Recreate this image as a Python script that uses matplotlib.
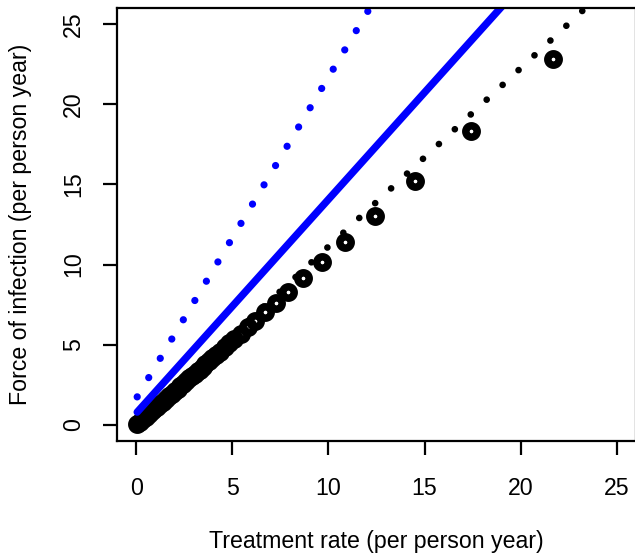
import matplotlib
matplotlib.use('Agg')
import matplotlib.pyplot as plt

# open circles (treatment rate vs force of infection)
circle_x = [21.7, 17.4, 14.5, 12.4, 10.85, 9.65, 8.7, 7.9, 7.25, 6.7, 6.2, 5.8,
            5.45, 5.1, 4.85, 4.6, 4.35, 4.15, 3.95, 3.8, 3.6, 3.45, 3.3, 3.2,
            3.05, 2.9, 2.75, 2.6, 2.45, 2.3, 2.15, 2.0, 1.85, 1.7, 1.55, 1.4,
            1.25, 1.1, 0.95, 0.8, 0.65, 0.5, 0.35, 0.2, 0.05]
circle_y = [22.8, 18.3, 15.2, 13.0, 11.4, 10.15, 9.15, 8.3, 7.6, 7.05, 6.5, 6.1,
            5.7, 5.35, 5.1, 4.85, 4.55, 4.35, 4.15, 4.0, 3.8, 3.6, 3.45, 3.35,
            3.2, 3.05, 2.9, 2.75, 2.55, 2.4, 2.25, 2.1, 1.95, 1.8, 1.6, 1.45,
            1.3, 1.15, 1.0, 0.85, 0.7, 0.5, 0.35, 0.2, 0.05]

# reference lines
black_dot_x = [0.0, 24.0]
black_dot_y = [0.0, 26.7]
blue_solid_x = [0.05, 20.0]
blue_solid_y = [0.8, 27.4]
blue_dot_x = [0.05, 13.0]
blue_dot_y = [1.75, 27.7]

ticks = [0, 5, 10, 15, 20, 25]

plt.rcParams['font.family'] = ['Liberation Sans', 'DejaVu Sans']
plt.rcParams['font.size'] = 16.7

fig = plt.figure(figsize=(6.35, 5.59), dpi=100)
ax = fig.add_axes([117 / 635, 1 - 441 / 559, 519 / 635, 433 / 559])

ax.plot(circle_x, circle_y, linestyle='none', marker='o', markersize=8.2,
        markerfacecolor='none', markeredgecolor='black', markeredgewidth=5.4)
ax.plot(black_dot_x, black_dot_y, color='black', linewidth=4.8,
        linestyle=(0, (0.01, 3.25)), dash_capstyle='round')
ax.plot(blue_solid_x, blue_solid_y, color='#0000ff', linewidth=5.3,
        solid_capstyle='round')
ax.plot(blue_dot_x, blue_dot_y, color='#0000ff', linewidth=5.2,
        linestyle=(0, (0.01, 3.1)), dash_capstyle='round')

ax.set_xlim(-1, 26)
ax.set_ylim(-1, 26)
ax.set_xticks(ticks)
ax.set_yticks(ticks)
for s in ax.spines.values():
    s.set_linewidth(1.6)
ax.tick_params(length=10, width=1.6)
ax.tick_params(axis='x', pad=16)
ax.tick_params(axis='y', pad=13)
plt.setp(ax.get_yticklabels(), rotation=90, va='center')

ax.set_xlabel('Treatment rate (per person year)', va='center')
ax.xaxis.set_label_coords(0.5, -0.231)
ax.set_ylabel('Force of infection (per person year)', va='center')
ax.yaxis.set_label_coords(-0.186, 0.5)

plt.savefig('out.png', dpi=100)
